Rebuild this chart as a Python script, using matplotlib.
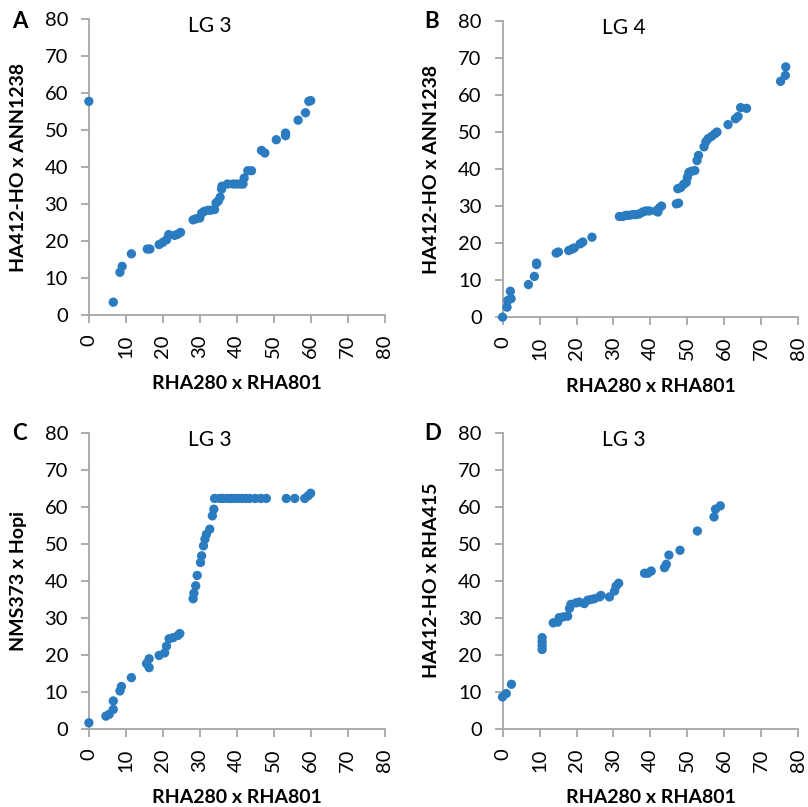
import matplotlib
matplotlib.use('Agg')
import matplotlib.pyplot as plt

plt.rcParams['font.family'] = ['Lato', 'DejaVu Sans']

DOT_COLOR = '#2A7BC0'
AXIS_COLOR = '#A6A6A6'

# ---------------------------------------------------------------------------
# Data
# ---------------------------------------------------------------------------

a_x = [0, 6.6, 8.4, 9.0, 11.5, 15.8, 16.5, 19.0, 20.0, 21.0, 21.6, 23.2, 24.0, 24.8,
       28.2, 29.0, 30.0, 30.5, 31.2, 32.2, 33.0, 34.0, 34.4, 35.0, 35.5, 35.9,
       36.0, 37.5, 39.0, 40.0, 41.0, 41.7, 42.0, 43.0, 44.0, 46.7, 47.6, 50.7,
       53.2, 53.2, 56.6, 58.6, 59.5, 60.0]
a_y = [57.8, 3.4, 11.5, 13.1, 16.5, 17.8, 17.8, 19.0, 19.6, 20.3, 21.7, 21.5, 21.8, 22.3,
       25.7, 26.0, 26.2, 27.5, 28.0, 28.3, 28.3, 28.5, 30.3, 30.8, 31.8, 34.0,
       34.8, 35.4, 35.4, 35.4, 35.4, 35.4, 37.0, 39.0, 39.0, 44.5, 43.8, 47.4,
       48.5, 49.2, 52.7, 54.7, 57.8, 58.0]

b_x = [0, 1.2, 1.4, 2.3, 2.1, 7.0, 8.6, 9.2, 9.2, 14.5, 15.1, 17.9, 18.8, 19.4,
       21.0, 21.7, 24.2, 31.6, 32.5, 33.4, 34.3, 35.2, 36.1, 37.0, 37.9, 38.8,
       39.7, 41.5, 42.0, 42.4, 43.0, 47.0, 47.6, 47.4, 48.2, 49.0, 49.7, 50.0,
       50.4, 51.1, 52.0, 52.6, 53.0, 54.5, 55.0, 55.6, 56.5, 57.4, 58.0, 61.0,
       63.0, 63.7, 64.4, 66.0, 75.2, 76.5, 76.6]
b_y = [0, 2.7, 4.5, 5.0, 7.0, 8.8, 11.0, 14.2, 14.6, 17.3, 17.6, 18.0, 18.4, 18.7,
       19.8, 20.3, 21.6, 27.2, 27.2, 27.5, 27.5, 27.7, 27.7, 27.9, 28.4, 28.7,
       28.7, 28.7, 28.4, 29.5, 30.0, 30.6, 30.8, 34.7, 35.0, 35.9, 36.4, 37.8,
       39.1, 39.4, 39.6, 42.3, 43.7, 46.0, 47.4, 48.2, 48.8, 49.5, 50.0, 52.0,
       53.6, 54.2, 56.6, 56.4, 63.7, 65.3, 67.6]

c_x = [0, 4.6, 5.5, 6.6, 6.6, 8.4, 8.8, 11.5, 15.6, 16.3, 16.3, 19.0, 20.5, 21.0,
       21.7, 22.8, 24.1, 24.6, 28.2, 28.4, 28.9, 29.3, 30.2, 30.5, 31.0, 31.4,
       31.8, 32.7, 33.4, 33.8, 34.0, 35.4, 36.3, 37.5, 38.5, 39.5, 40.5, 41.5,
       42.5, 43.5, 45.0, 46.5, 48.0, 53.4, 55.7, 58.4, 59.3, 60.0]
c_y = [1.6, 3.4, 3.9, 5.2, 7.5, 10.2, 11.4, 13.8, 17.6, 16.5, 18.9, 19.8, 20.5, 22.3,
       24.3, 24.6, 25.2, 25.7, 35.1, 36.6, 38.6, 41.4, 44.9, 46.7, 49.4, 51.2,
       52.5, 53.9, 57.5, 59.3, 62.2, 62.2, 62.2, 62.2, 62.2, 62.2, 62.2, 62.2,
       62.2, 62.2, 62.2, 62.2, 62.2, 62.2, 62.2, 62.2, 62.9, 63.6]

d_x = [0, 1.0, 2.4, 10.7, 10.7, 10.7, 10.7, 13.7, 14.9, 15.3, 16.4, 17.6, 18.1, 18.5,
       19.9, 20.8, 22.1, 23.0, 23.9, 24.8, 26.2, 26.6, 28.9, 30.3, 30.7, 31.4,
       38.4, 39.3, 40.2, 43.8, 44.3, 45.0, 48.0, 52.7, 57.2, 57.6, 58.9]
d_y = [8.6, 9.5, 12.0, 21.4, 22.5, 23.5, 24.6, 28.6, 28.8, 30.0, 30.2, 30.4, 32.5, 33.6,
       34.0, 34.2, 33.8, 34.7, 34.9, 35.1, 35.6, 36.0, 35.6, 37.2, 38.5, 39.3,
       42.0, 42.0, 42.6, 43.5, 44.4, 46.9, 48.2, 53.4, 57.2, 59.3, 60.2]

panels = [
    dict(letter='A', title='LG 3', ylabel='HA412-HO x ANN1238', x=a_x, y=a_y),
    dict(letter='B', title='LG 4', ylabel='HA412-HO x ANN1238', x=b_x, y=b_y),
    dict(letter='C', title='LG 3', ylabel='NMS373 x Hopi', x=c_x, y=c_y),
    dict(letter='D', title='LG 3', ylabel='HA412-HO x RHA415', x=d_x, y=d_y),
]

# axes boxes in figure fractions (left, bottom, width, height)
boxes = [
    (0.110, 0.610, 0.366, 0.366),
    (0.622, 0.607, 0.366, 0.367),
    (0.110, 0.097, 0.366, 0.367),
    (0.622, 0.097, 0.366, 0.367),
]
letter_pos = [(0.015, 0.973), (0.525, 0.973), (0.015, 0.463), (0.525, 0.463)]

fig = plt.figure(figsize=(8.08, 8.07), dpi=100)

for p, box, lp in zip(panels, boxes, letter_pos):
    ax = fig.add_axes(box)
    ax.scatter(p['x'], p['y'], s=45, color=DOT_COLOR, edgecolors='none',
               zorder=3, clip_on=False)
    ax.set_xlim(0, 80)
    ax.set_ylim(0, 80)
    ax.set_xticks(range(0, 81, 10))
    ax.set_yticks(range(0, 81, 10))
    for side in ('top', 'right'):
        ax.spines[side].set_visible(False)
    for side in ('left', 'bottom'):
        ax.spines[side].set_color(AXIS_COLOR)
        ax.spines[side].set_linewidth(1.3)
    ax.tick_params(axis='both', direction='out', length=6, width=1.3,
                   color=AXIS_COLOR, labelsize=14.5, labelcolor='black', pad=9)
    ax.tick_params(axis='x', labelrotation=90, pad=8)
    ax.set_xlabel('RHA280 x RHA801', fontsize=14, fontweight='bold')
    ax.xaxis.set_label_coords(0.5, -0.205)
    ax.set_ylabel(p['ylabel'], fontsize=14, fontweight='bold')
    ax.yaxis.set_label_coords(-0.21, 0.5)
    ax.text(0.41, 0.976, p['title'], transform=ax.transAxes, ha='center',
            va='center', fontsize=15)
    fig.text(lp[0], lp[1], p['letter'], ha='left', va='center',
             fontsize=16, fontweight='bold')

fig.savefig('out.png', dpi=100)
